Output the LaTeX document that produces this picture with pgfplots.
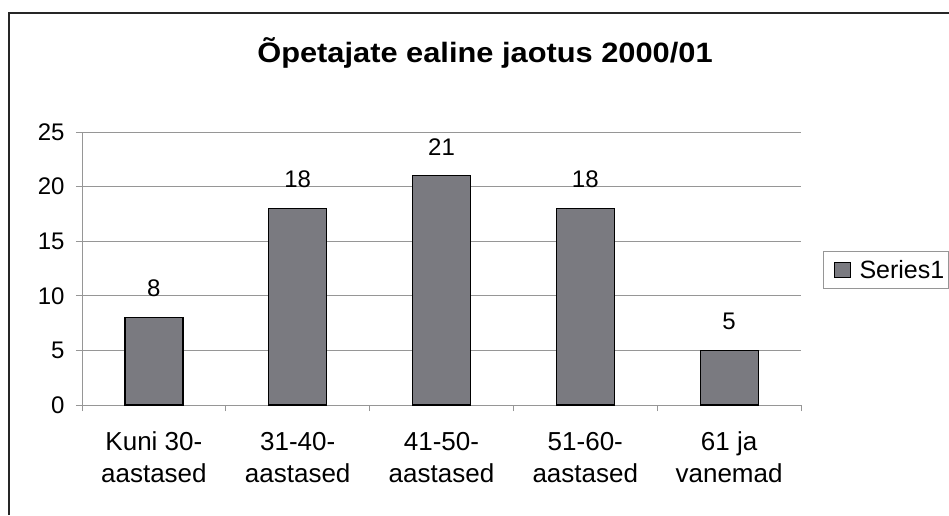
\documentclass[border=0pt]{standalone}
\usepackage{pgfplots}
\pgfplotsset{compat=1.18}
\usepackage{fontspec}
\setmainfont{Liberation Sans}
\definecolor{barfill}{RGB}{122,122,128}
\definecolor{gridc}{RGB}{150,150,150}
\begin{document}
\begin{tikzpicture}[x=1pt,y=1pt]
\path[use as bounding box] (0,0) rectangle (949,515);
\fill[white] (0,0) rectangle (949,515);
\draw[line width=1.6pt, black!85] (9,0) -- (9,502) -- (949,502);
\node[font=\fontsize{28}{32}\selectfont\bfseries, anchor=base, xscale=1.1] at (485,452) {Õpetajate ealine jaotus 2000/01};
\begin{axis}[
  at={(82pt,110pt)}, anchor=south west,
  scale only axis, width=719pt, height=273pt,
  xmin=-0.5, xmax=4.5, ymin=0, ymax=25,
  ytick={0,5,...,25},
  xtick={-0.5,0.5,...,4.5},
  xticklabels={,,,,,},
  extra x ticks={0,1,2,3,4},
  extra x tick labels={{\vphantom{Kj}Kuni 30-\\aastased},{\vphantom{Kj}31-40-\\aastased},{\vphantom{Kj}41-50-\\aastased},{\vphantom{Kj}51-60-\\aastased},{\vphantom{Kj}61 ja\\vanemad}},
  extra x tick style={major tick length=0pt, grid=none,
     tick label style={align=center, yshift=-23pt, font=\fontsize{26}{32}\selectfont}},
  axis lines*=left,
  axis line style={gridc, line width=0.8pt},
  tick style={gridc, line width=0.8pt},
  tick align=outside,
  major tick length=6pt,
  ymajorgrids,
  major grid style={gridc, line width=0.8pt},
  ticklabel style={font=\fontsize{24}{28}\selectfont},
  yticklabel style={xshift=-8pt},
  /pgf/number format/assume math mode=true,
  ybar, bar width=58pt,
  nodes near coords,
  nodes near coords style={font=\fontsize{24}{28}\selectfont, anchor=south, inner sep=0pt, yshift=20pt},
  legend style={at={(1.0306,0.4945)}, anchor=west, draw=gridc, line width=0.8pt,
     font=\fontsize{25}{28}\selectfont, inner xsep=4pt, inner ysep=7pt,
     nodes={inner xsep=0pt},
     /tikz/every odd column/.append style={column sep=9pt}},
  legend image code/.code={\path (0pt,0pt); \draw[#1, line width=1pt] (6pt,-7pt) rectangle (22pt,8pt);},
]
\addplot[fill=barfill, draw=black, line width=1.2pt] coordinates {(0,8) (1,18) (2,21) (3,18) (4,5)};
\addlegendentry{Series1}
\end{axis}
\end{tikzpicture}
\end{document}
